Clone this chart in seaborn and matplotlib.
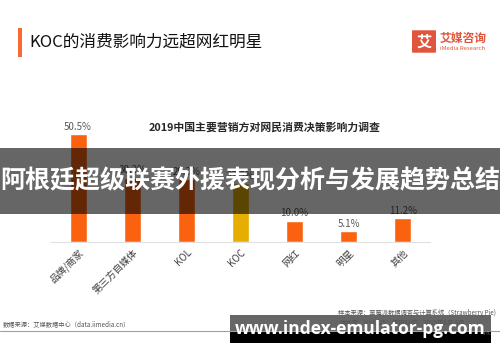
import matplotlib
matplotlib.use('Agg')
import matplotlib.pyplot as plt
import seaborn as sns
import pandas as pd
from matplotlib.patches import Rectangle, FancyBboxPatch

sns.set_theme(style='white')
plt.rcParams['font.family'] = ['Noto Sans CJK SC', 'DejaVu Sans']

# 数据
categories = ['品牌/商家', '第三方自媒体', 'KOL', 'KOC', '网红', '明星', '其他']
values = [50.5, 30.2, 29.3, 27.5, 10.0, 5.1, 11.2]
bar_colors = ['#FA6210', '#FA6210', '#FA6210', '#E6AE00', '#FA6210', '#FA6210', '#FA6210']

df = pd.DataFrame({'cat': categories, 'val': values})

W, H = 500, 362
fig = plt.figure(figsize=(W / 100, H / 100), dpi=100)
fig.patch.set_facecolor('white')


def fx(px):
    return px / W


def fy(py):
    return 1 - py / H


# 页面标题
fig.add_artist(Rectangle((fx(18), fy(57)), fx(4), 29 / H, transform=fig.transFigure,
                         color='#FA6A30', lw=0))
fig.text(fx(29), fy(42), 'KOC的消费影响力远超网红明星', fontsize=12, color='#111111',
         weight='medium', va='center', ha='left')

# logo
fig.add_artist(FancyBboxPatch((fx(413), fy(52)), fx(22), 21 / H, transform=fig.transFigure,
                              boxstyle='round,pad=0.002', color='#E0563C', lw=0))
fig.text(fx(424), fy(41.5), '艾', fontsize=11, color='white', weight='bold', ha='center', va='center')
fig.text(fx(440), fy(38), '艾媒咨询', fontsize=8.5, color='#E0563C', weight='bold', ha='left', va='center')
fig.text(fx(440), fy(49), 'iMedia Research', fontsize=4.3, color='#E0563C', ha='left', va='center')

# 图表
ax = fig.add_axes([fx(51), fy(242), fx(430) - fx(51), 128 / H])
sns.barplot(data=df, x='cat', y='val', hue='cat', palette=bar_colors, legend=False,
            width=0.315, ax=ax, saturation=1)
ax.set_ylim(0, 60)
ax.set_xlim(-0.5, 6.5)
ax.set_xlabel('')
ax.set_ylabel('')
ax.set_yticks([])
for s in ['top', 'right', 'left']:
    ax.spines[s].set_visible(False)
ax.spines['bottom'].set_color('#E0E0E0')
ax.spines['bottom'].set_linewidth(0.8)
ax.tick_params(axis='x', length=0, pad=4)
ax.set_xticks(range(len(categories)))
ax.set_xticklabels(categories, rotation=45, ha='right', rotation_mode='anchor',
                   fontsize=7, color='#404040')
for i, v in enumerate(values):
    ax.text(i, v + 1.2, f'{v:.1f}%', ha='center', va='bottom', fontsize=7, color='#595959')

fig.text(fx(265), fy(127), '2019中国主要营销方对网民消费决策影响力调查', fontsize=7.8,
         weight='bold', color='#262626', ha='center', va='center')

# 遮罩横幅
fig.add_artist(Rectangle((0, fy(214)), 1, 66 / H, transform=fig.transFigure,
                         color='black', alpha=0.6, lw=0))
fig.text(0.5, fy(181), '阿根廷超级联赛外援表现分析与发展趋势总结', fontsize=18, weight='bold',
         color='white', ha='center', va='center')

# 页脚
fig.add_artist(plt.Line2D([0, 1], [fy(331), fy(331)], transform=fig.transFigure,
                          color='#A0A0A0', lw=0.8))
fig.text(fx(3), fy(324), '数据来源：艾媒数据中心（data.iimedia.cn）', fontsize=4.5,
         color='#555555', ha='left', va='center')
fig.text(fx(496), fy(313), '样本来源：草莓派数据调查与计算系统（Strawberry Pie)', fontsize=4.5,
         color='#555555', ha='right', va='center')
fig.text(fx(340), fy(323), '样本量：N=1525；调研时间：2019年8月-9月', fontsize=4.5,
         color='#555555', ha='left', va='center')
fig.text(fx(482), fy(333), 'Inc', fontsize=4.5, color='#555555', ha='left', va='center')

# 水印
fig.add_artist(Rectangle((fx(230), fy(331)), fx(261), 16 / H, transform=fig.transFigure,
                         color='#666666', lw=0))
fig.add_artist(Rectangle((fx(230), fy(343)), fx(261), 12 / H, transform=fig.transFigure,
                         color='black', lw=0))
fig.text(fx(360), fy(329), 'www.index-emulator-pg.com', fontsize=12.5, weight='bold',
         color='white', ha='center', va='center', family=['Open Sans', 'DejaVu Sans'])

fig.savefig('out.png', dpi=100)
